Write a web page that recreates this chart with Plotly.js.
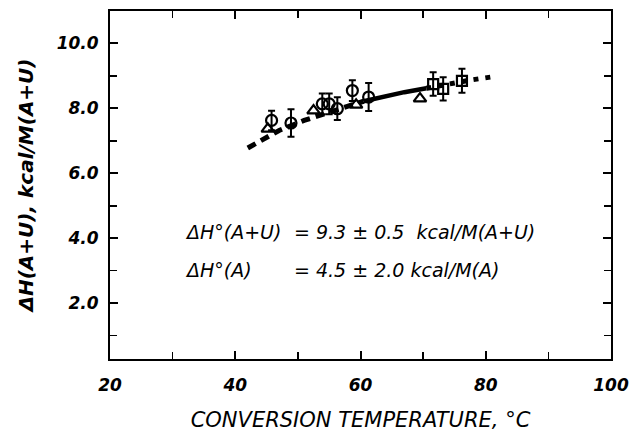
<!DOCTYPE html>
<html><head><meta charset="utf-8">
<script src="https://cdn.plot.ly/plotly-3.0.1.min.js"></script>
<style>body{margin:0;background:#fff}#c{width:636px;height:436px}</style>
</head><body><div id="c"></div>
<script>
// circles
const circX = [45.8, 48.9, 53.9, 55.0, 56.3, 58.7, 61.3];
const circY = [7.63, 7.55, 8.14, 8.14, 7.99, 8.55, 8.35];
const circE = [0.30, 0.42, 0.32, 0.32, 0.35, 0.32, 0.43];
// triangles
const triX = [45.2, 52.5, 59.3, 69.5];
const triY = [7.37, 7.93, 8.11, 8.30];
// squares
const sqX = [71.6, 73.2, 76.2];
const sqY = [8.75, 8.60, 8.85];
const sqE = [0.36, 0.36, 0.37];
// fitted curve pieces
const dashX = [42.0, 47.0, 51.0, 56.0, 60.5];
const dashY = [6.78, 7.32, 7.63, 7.95, 8.22];
const solidX = [60.5, 63.5, 67.0, 70.5];
const solidY = [8.22, 8.36, 8.50, 8.62];
const dotX = [70.5, 74.0, 77.5, 81.3];
const dotY = [8.62, 8.75, 8.87, 8.98];
const xTicks = [20, 40, 60, 80, 100];
const yTicks = [2, 4, 6, 8, 10];
const yTickText = ['2.0', '4.0', '6.0', '8.0', '10.0'];

const F = 'DejaVu Sans, sans-serif';
const traces = [
  {x: dashX, y: dashY, mode: 'lines', line: {color: '#000', width: 5, dash: '9px,6px'}, hoverinfo: 'skip'},
  {x: solidX, y: solidY, mode: 'lines', line: {color: '#000', width: 4.5}, hoverinfo: 'skip'},
  {x: dotX, y: dotY, mode: 'lines', line: {color: '#000', width: 5, dash: '5px,7px'}, hoverinfo: 'skip'},
  {x: triX, y: triY, mode: 'markers', marker: {symbol: 'triangle-up-open', size: 11, color: '#000', line: {width: 2.2, color: '#000'}}},
  {x: circX, y: circY, mode: 'markers', marker: {symbol: 'circle-open', size: 11, color: '#000', line: {width: 2.2, color: '#000'}},
   error_y: {type: 'data', array: circE, visible: true, color: '#000', thickness: 2, width: 3.5}},
  {x: sqX, y: sqY, mode: 'markers', marker: {symbol: 'square-open', size: 10, color: '#000', line: {width: 2.2, color: '#000'}},
   error_y: {type: 'data', array: sqE, visible: true, color: '#000', thickness: 2, width: 3.5}}
];
const axBase = {showgrid: false, zeroline: false, showline: true, linecolor: '#000', linewidth: 2,
  mirror: 'allticks', ticks: 'inside', tickcolor: '#000', tickwidth: 2, ticklen: 8,
  tickfont: {family: F, size: 17, color: '#000', style: 'italic', weight: 'bold'}};
const layout = {
  width: 636, height: 436, showlegend: false,
  paper_bgcolor: '#fff', plot_bgcolor: '#fff',
  margin: {l: 110, r: 25, t: 11, b: 77},
  xaxis: Object.assign({}, axBase, {range: [20, 100], tickvals: xTicks, ticktext: xTicks.map(String),
    minor: {ticks: 'inside', dtick: 10, tick0: 20, ticklen: 7, tickwidth: 1.5, tickcolor: '#000'},
    ticklabelstandoff: 10,
    title: {text: 'CONVERSION TEMPERATURE, °C', standoff: 18,
      font: {family: F, size: 21, color: '#000', style: 'italic'}}}),
  yaxis: Object.assign({}, axBase, {range: [0.28, 11], tickvals: yTicks, ticktext: yTickText,
    minor: {ticks: 'inside', dtick: 1, tick0: 1, ticklen: 7, tickwidth: 1.5, tickcolor: '#000'},
    ticklabelstandoff: 6,
    title: {text: 'ΔH(A+U), kcal/M(A+U)', standoff: 18,
      font: {family: F, size: 20, color: '#000', style: 'italic', weight: 'bold'}}}),
  annotations: [
    {x: 183, y: 232, text: 'ΔH°(A+U)'},
    {x: 292, y: 232, text: '= 9.3 ± 0.5  kcal/M(A+U)'},
    {x: 183, y: 270, text: 'ΔH°(A)'},
    {x: 292, y: 270, text: '= 4.5 ± 2.0 kcal/M(A)'}
  ].map(a => ({
    x: (a.x - 110) / 501, y: (359 - a.y) / 348, xref: 'paper', yref: 'paper',
    xanchor: 'left', yanchor: 'middle', text: a.text, showarrow: false,
    font: {family: F, size: 19, color: '#000', style: 'italic'}
  }))
};
Plotly.newPlot('c', traces, layout, {staticPlot: true});
</script></body></html>
